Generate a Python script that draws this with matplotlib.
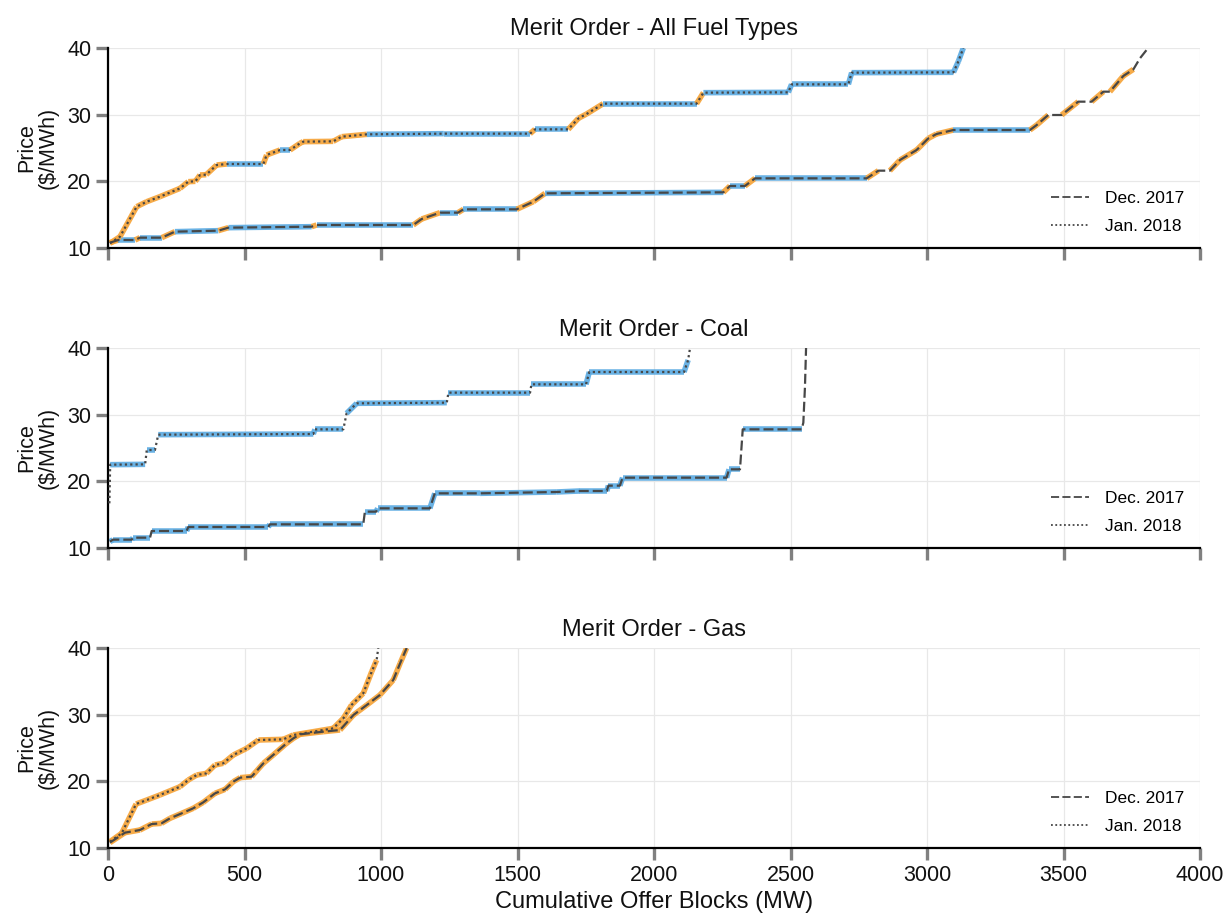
import matplotlib
matplotlib.use("Agg")
import matplotlib.pyplot as plt
from matplotlib.lines import Line2D
import numpy as np

plt.rcParams['font.family'] = ['Liberation Sans', 'DejaVu Sans']

# ---------------- data (cumulative MW, price $/MWh, fuel of block ending at each point) ----------------
titles = ["Merit Order - All Fuel Types", "Merit Order - Coal", "Merit Order - Gas"]
series_labels = ["Dec. 2017", "Jan. 2018"]

# All fuel types - Dec. 2017
all_dec_mw = [7, 38, 99, 117, 197, 245, 404, 441, 746, 764, 1118, 1149, 1216, 1282, 1302, 1497, 1558,
              1601, 2254, 2278, 2333, 2370, 2779, 2822, 2864, 2901, 2962, 3005, 3035, 3097, 3377, 3402,
              3444, 3493, 3554, 3603, 3646, 3670, 3719, 3756, 3780, 3810]
all_dec_price = [10.8, 11.2, 11.2, 11.55, 11.55, 12.45, 12.6, 13.05, 13.2, 13.45, 13.45, 14.35, 15.3, 15.3,
                 15.8, 15.8, 16.95, 18.2, 18.35, 19.3, 19.3, 20.45, 20.45, 21.6, 21.6, 23.2, 24.7, 26.45,
                 27.1, 27.7, 27.7, 28.45, 29.95, 29.95, 31.95, 31.95, 33.45, 33.45, 35.8, 36.8, 38.45, 40]
all_dec_fuel = ['G', 'G', 'C', 'G', 'C', 'G', 'C', 'G', 'C', 'G', 'C', 'G', 'G', 'C', 'G', 'C', 'G',
                'G', 'C', 'G', 'C', 'G', 'C', 'G', 'O', 'G', 'G', 'G', 'G', 'G', 'C', 'G',
                'G', 'O', 'G', 'O', 'G', 'O', 'G', 'G', 'O', 'O']

# All fuel types - Jan. 2018
all_jan_mw = [7, 44, 105, 142, 190, 264, 294, 320, 337, 360, 398, 435, 569, 581, 630, 667, 703, 715, 825,
              856, 948, 1230, 1546, 1564, 1686, 1723, 1753, 1814, 2156, 2181, 2492, 2504, 2712, 2724,
              3097, 3115, 3133]
all_jan_price = [10.7, 11.7, 16.2, 16.95, 17.7, 18.95, 19.95, 20.0, 20.95, 21.0, 22.45, 22.6, 22.6, 23.95,
                 24.7, 24.7, 25.7, 25.95, 26.0, 26.7, 27.05, 27.15, 27.15, 27.8, 27.8, 29.45, 30.1, 31.65,
                 31.65, 33.3, 33.35, 34.55, 34.55, 36.3, 36.35, 38.0, 40]
all_jan_fuel = ['G', 'G', 'G', 'G', 'G', 'G', 'G', 'G', 'G', 'G', 'G', 'G',
                'C', 'G', 'G', 'C', 'G', 'G', 'G', 'G', 'G', 'C', 'C', 'G', 'C', 'G', 'G', 'G', 'C', 'G', 'C',
                'C', 'C', 'C', 'C', 'C', 'C']

# Coal - Dec. 2017
coal_dec_mw = [7, 18, 87, 92, 154, 160, 288, 294, 587, 593, 935, 941, 982, 988, 1179, 1197, 1363, 1502,
               1642, 1727, 1827, 1833, 1875, 1885, 2266, 2275, 2315, 2325, 2541, 2547, 2553, 2557]
coal_dec_price = [10.95, 11.25, 11.25, 11.55, 11.55, 12.55, 12.55, 13.15, 13.15, 13.55, 13.55, 15.45, 15.45,
                  15.95, 15.95, 18.2, 18.2, 18.3, 18.4, 18.55, 18.55, 19.35, 19.35, 20.55, 20.55, 21.8,
                  21.8, 27.8, 27.8, 28.8, 34.2, 40]

# Coal - Jan. 2018
coal_jan_mw = [5, 8, 136, 142, 172, 184, 752, 758, 862, 874, 911, 1241, 1247, 1546, 1551, 1751, 1763,
               2110, 2125, 2132]
coal_jan_price = [16.7, 22.5, 22.55, 24.7, 24.7, 27.0, 27.1, 27.8, 27.8, 30.2, 31.7, 31.8, 33.3, 33.3,
                  34.55, 34.55, 36.4, 36.4, 38.2, 40]

# Gas - Dec. 2017
gas_dec_mw = [7, 62, 117, 160, 196, 227, 270, 312, 349, 392, 429, 459, 484, 526, 569, 605, 654, 679, 703,
              789, 850, 899, 948, 996, 1045, 1070, 1094]
gas_dec_price = [10.8, 12.3, 12.7, 13.6, 13.7, 14.45, 15.2, 15.95, 16.85, 18.2, 18.8, 19.95, 20.55, 20.7,
                 22.7, 23.95, 25.7, 26.45, 27.05, 27.45, 27.7, 29.95, 31.45, 32.95, 35.2, 37.7, 40]

# Gas - Jan. 2018
gas_jan_mw = [7, 50, 103, 142, 190, 264, 294, 325, 361, 392, 422, 459, 508, 551, 642, 679, 752, 825, 862,
              892, 935, 966, 984, 990]
gas_jan_price = [10.95, 12.2, 16.6, 17.2, 17.95, 19.2, 20.2, 20.95, 21.2, 22.45, 22.7, 23.95, 24.95, 26.2,
                 26.3, 26.95, 27.45, 27.95, 29.45, 31.45, 33.2, 36.45, 38.2, 40]

panels = [
    [(all_dec_mw, all_dec_price, all_dec_fuel), (all_jan_mw, all_jan_price, all_jan_fuel)],
    [(coal_dec_mw, coal_dec_price, ['C'] * len(coal_dec_mw)), (coal_jan_mw, coal_jan_price, ['C'] * len(coal_jan_mw))],
    [(gas_dec_mw, gas_dec_price, ['G'] * len(gas_dec_mw)), (gas_jan_mw, gas_jan_price, ['G'] * len(gas_jan_mw))],
]

# ---------------- style ----------------
fuel_colors = {'C': '#5aaae2', 'G': '#f6a235'}
line_color = '#474747'
styles = [(0, (4.5, 1.8)), (0, (1, 1.4))]
xmin, xmax, ymin, ymax = 0, 4000, 10, 40

fig = plt.figure(figsize=(12.26, 9.13), dpi=100)
W, H = 1226, 913
left, right = 108 / W, 1200 / W
tops = [48, 348, 648]
ph = 200

axes = []
for i, t in enumerate(tops):
    ax = fig.add_axes([left, 1 - (t + ph) / H, right - left, ph / H])
    axes.append(ax)

for i, ax in enumerate(axes):
    ax.set_xlim(xmin, xmax)
    ax.set_ylim(ymin, ymax)
    ax.grid(True, color='#e8e8e8', linewidth=0.9)
    ax.set_axisbelow(True)
    for s in ['top', 'right']:
        ax.spines[s].set_visible(False)
    for s in ['left', 'bottom']:
        ax.spines[s].set_linewidth(1.6)
        ax.spines[s].set_color('black')
    ax.set_xticks(np.arange(0, 4001, 500))
    ax.set_yticks([10, 20, 30, 40])
    ax.tick_params(axis='both', direction='out', length=8.5, width=2.4, color='#808080',
                   labelsize=15.5, pad=3.5, labelcolor='#111111')
    if i < 2:
        ax.tick_params(axis='x', labelbottom=False)
    ax.set_title(titles[i], fontsize=17, pad=9, color='#111111')
    ax.set_ylabel("Price\n($/MWh)", fontsize=15.5, labelpad=6, color='#111111', linespacing=1.05)

    # px per data unit for slope check
    sx = (right - left) * W / (xmax - xmin)
    sy = ph / (ymax - ymin)
    for k, (mw, pr, fu) in enumerate(panels[i]):
        for j in range(1, len(mw)):
            f = fu[j]
            if f not in fuel_colors:
                continue
            dxp = (mw[j] - mw[j - 1]) * sx
            dyp = (pr[j] - pr[j - 1]) * sy
            if dyp > 4 * max(dxp, 0.1):
                continue
            ax.plot([mw[j - 1], mw[j]], [pr[j - 1], pr[j]], color=fuel_colors[f], lw=4.0,
                    solid_capstyle='butt', zorder=2, alpha=0.9, clip_on=True)
        ax.plot(mw, pr, color=line_color, lw=1.6, linestyle=styles[k], zorder=3)

    handles = [Line2D([], [], color=line_color, lw=1.3, linestyle=styles[0]),
               Line2D([], [], color=line_color, lw=1.3, linestyle=styles[1])]
    ax.legend(handles, series_labels, loc='lower right', frameon=False, fontsize=12.5,
              handlelength=2.2, handletextpad=0.9, bbox_to_anchor=(1.0, -0.01), labelspacing=0.75)

axes[2].set_xlabel("Cumulative Offer Blocks (MW)", fontsize=17, color='#111111', labelpad=4)

fig.savefig("out.png", dpi=100)
